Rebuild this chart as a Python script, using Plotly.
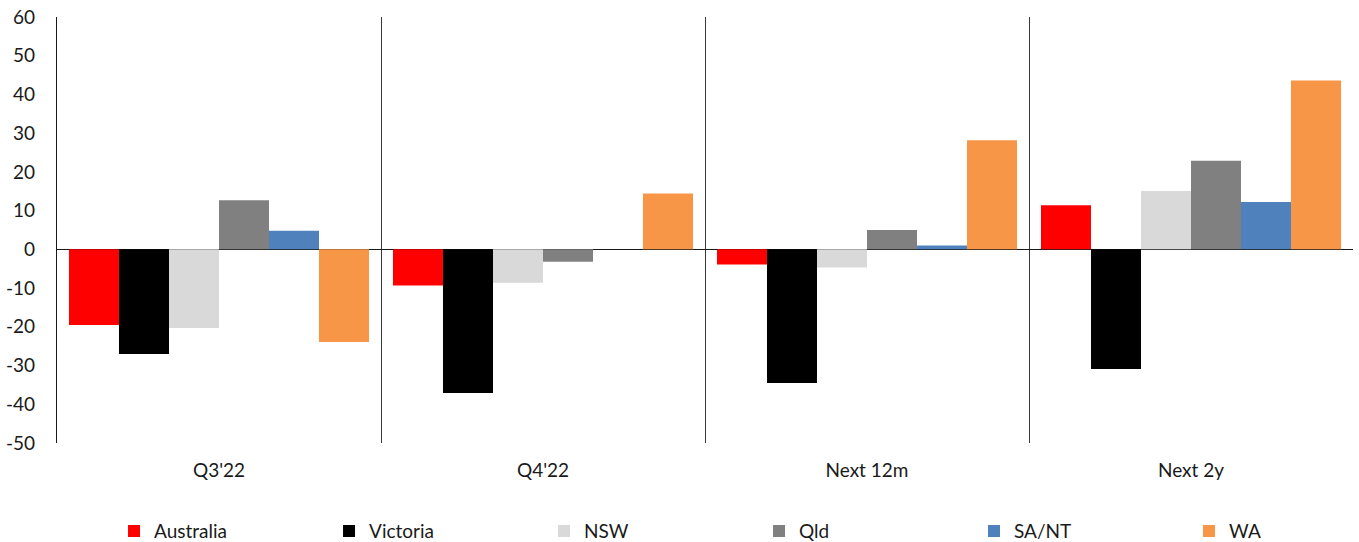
import plotly.graph_objects as go

# Survey horizons and regional net balances
periods = ["Q3'22", "Q4'22", "Next 12m", "Next 2y"]
regions = ["Australia", "Victoria", "NSW", "Qld", "SA/NT", "WA"]

australia = [-19.5, -9.3, -3.9, 11.4]
victoria = [-27.0, -37.1, -34.5, -30.9]
nsw = [-20.3, -8.6, -4.7, 15.1]
qld = [12.7, -3.2, 5.0, 22.9]
sa_nt = [4.8, 0.0, 1.0, 12.2]
wa = [-23.9, 14.4, 28.2, 43.6]

# y-axis ticks, labelled with a plain hyphen for negatives
y_ticks = [-50, -40, -30, -20, -10, 0, 10, 20, 30, 40, 50, 60]
y_tick_labels = ["-50", "-40", "-30", "-20", "-10", "0", "10", "20", "30", "40", "50", "60"]

series = [australia, victoria, nsw, qld, sa_nt, wa]
colors = ["#FF0000", "#000000", "#D9D9D9", "#808080", "#4F81BD", "#F79646"]

font_family = "Lato, 'Noto Sans', sans-serif"
text_color = "#1a1a1a"

fig = go.Figure()
for name, vals, col in zip(regions, series, colors):
    fig.add_trace(go.Bar(
        name=name, x=periods, y=vals,
        marker=dict(color=col, line=dict(width=0)),
    ))

fig.update_layout(
    width=1359, height=542,
    barmode="group", bargap=0.074, bargroupgap=0,
    plot_bgcolor="white", paper_bgcolor="white",
    margin=dict(l=57, r=6, t=17, b=99, autoexpand=False),
    font=dict(family=font_family, size=19, color=text_color),
    showlegend=True,
    legend=dict(
        orientation="h", x=0.044, xanchor="left", y=-0.207, yanchor="middle",
        entrywidth=170, entrywidthmode="pixels",
        font=dict(size=19, color=text_color),
        itemwidth=30, traceorder="normal",
    ),
)

fig.update_xaxes(
    type="category", tickson="boundaries",
    showgrid=True, gridcolor="#3a3a3a", gridwidth=1,
    showline=False, ticks="", zeroline=False,
    ticklabelstandoff=14, automargin=False,
    tickfont=dict(size=19, color=text_color),
)
fig.update_yaxes(
    range=[-50, 60], tickvals=y_ticks, ticktext=y_tick_labels,
    showgrid=False, zeroline=True, zerolinecolor=text_color, zerolinewidth=1.3,
    showline=True, linecolor=text_color, linewidth=1.3,
    ticks="", ticklabelstandoff=17, automargin=False,
    tickfont=dict(size=19, color=text_color),
)

fig.write_html("out.html")
